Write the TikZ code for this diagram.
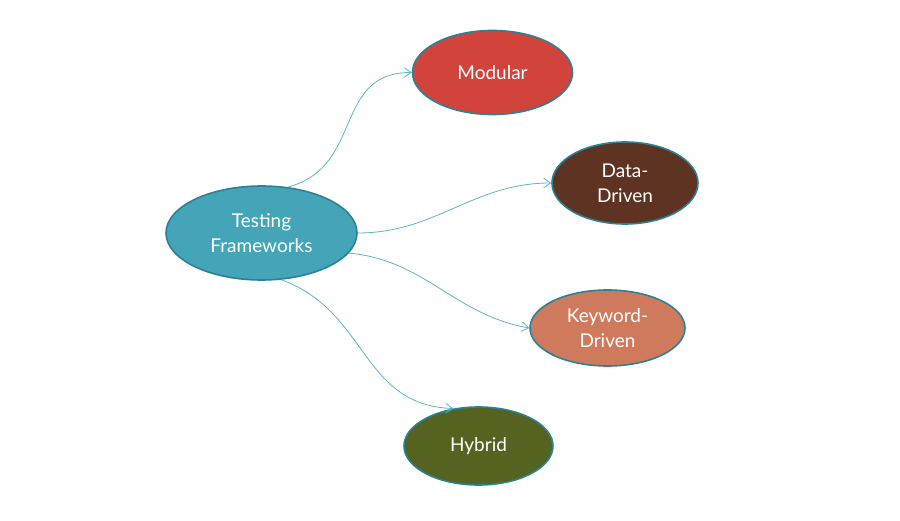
\documentclass[tikz,border=0pt]{standalone}
\usepackage{fontspec}
\setmainfont{Lato}
\usepackage{xcolor}
\usepackage{tikz}
\usetikzlibrary{arrows.meta,shapes.geometric}
\definecolor{tealx}{HTML}{44A5B8}
\definecolor{rimx}{HTML}{2B8196}
\definecolor{linex}{HTML}{5BB4C6}
\definecolor{redx}{HTML}{D0443C}
\definecolor{brownx}{HTML}{5E3322}
\definecolor{salmonx}{HTML}{CF7A5C}
\definecolor{olivex}{HTML}{556320}
\tikzset{
  ar/.style={-{Straight Barb[length=2.4mm,width=3.4mm]},linex,line width=0.8pt},
  oval/.style={ellipse,draw=rimx,line width=1.6pt,text=white,align=center,
    font=\fontsize{19}{25}\selectfont,inner sep=0pt}
}
\begin{document}
\begin{tikzpicture}[x=1pt,y=1pt]
\useasboundingbox (0,0) rectangle (900,520);
\node[oval,fill=tealx,minimum width=191,minimum height=94] (testing) at (261.5,287) {Testing\\Frameworks};
\node[oval,fill=redx,minimum width=160,minimum height=84] (modular) at (492.5,447.5) {Modular};
\node[oval,fill=brownx,minimum width=146,minimum height=82] (data) at (625,337) {Data-\\Driven};
\node[oval,fill=salmonx,minimum width=155,minimum height=76] (keyword) at (607.5,192) {Keyword-\\Driven};
\node[oval,fill=olivex,minimum width=149,minimum height=78] (hybrid) at (478.5,74) {Hybrid};
\draw[ar] (testing.60) to[out=15,in=180,looseness=1.2] (modular.west);
\draw[ar] (testing.east) to[out=0,in=180] (data.west);
\draw[ar] (testing.-13) to[out=-5,in=170] (keyword.west);
\draw[ar] (testing.-67) to[out=-20,in=178,looseness=1.1] (hybrid.124);
\end{tikzpicture}
\end{document}
